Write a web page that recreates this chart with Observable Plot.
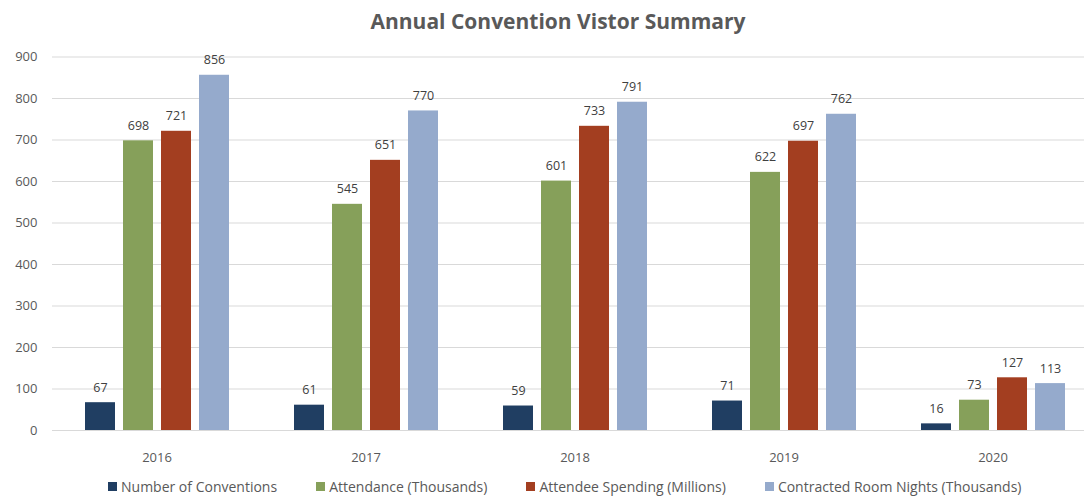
<!DOCTYPE html>
<html>
<head>
<meta charset="utf-8">
<script src="https://cdn.jsdelivr.net/npm/d3@7"></script>
<script src="https://cdn.jsdelivr.net/npm/@observablehq/plot@0.6"></script>
<style>
  html, body { margin: 0; padding: 0; background: #fff; }
  body { width: 1084px; height: 496px; overflow: hidden; font-family: "Open Sans", sans-serif; }
  #title { height: 40px; line-height: 42px; text-align: center; font-weight: bold; font-size: 21px; color: #595959; padding-left: 32px; box-sizing: border-box; }
  #chart { height: 436px; overflow: hidden; width: 1084px; }
  #legend { display: flex; align-items: center; height: 20px; padding-left: 108px; box-sizing: border-box; font-size: 14px; color: #595959; }
  #legend .item { display: flex; align-items: center; margin-right: 39px; }
  #legend .sw { width: 9px; height: 9px; margin-right: 4px; }
</style>
</head>
<body>
<div id="title">Annual Convention Vistor Summary</div>
<div id="chart"></div>
<div id="legend"></div>
<script>
const years = ["2016", "2017", "2018", "2019", "2020"];
const seriesNames = ["Number of Conventions", "Attendance (Thousands)", "Attendee Spending (Millions)", "Contracted Room Nights (Thousands)"];
const conventions = [67, 61, 59, 71, 16];
const attendance = [698, 545, 601, 622, 73];
const spending = [721, 651, 733, 697, 127];
const roomNights = [856, 770, 791, 762, 113];
const colors = ["#203e62", "#86a05a", "#a33e20", "#95aacc"];
const yTicks = [0, 100, 200, 300, 400, 500, 600, 700, 800, 900];

const seriesValues = [conventions, attendance, spending, roomNights];
const data = [];
years.forEach((yr, i) => {
  seriesNames.forEach((s, j) => data.push({year: yr, series: s, value: seriesValues[j][i]}));
});

const chart = Plot.plot({
  width: 1097,
  height: 436,
  marginLeft: 52,
  marginRight: 0,
  marginTop: 16.5,
  marginBottom: 46,
  style: {fontFamily: "Open Sans, sans-serif", fontSize: "13px", color: "#595959", background: "#fff", maxWidth: "none"},
  fx: {domain: years, padding: 0, label: null},
  x: {domain: seriesNames, paddingInner: 0.22, paddingOuter: 0.823, axis: null},
  y: {domain: [0, 900], label: null},
  color: {domain: seriesNames, range: colors},
  marks: [
    Plot.ruleY(yTicks, {stroke: "#d9d9d9", strokeWidth: 1.2}),
    Plot.axisY(yTicks, {tickSize: 0, tickPadding: 15, fontSize: 13, label: null, fill: "#595959"}),
    Plot.axisFx({anchor: "bottom", tickSize: 0, tickPadding: 22, fontSize: 13, label: null, fill: "#595959"}),
    Plot.barY(data, {fx: "year", x: "series", y: "value", fill: "series"}),
    Plot.text(data, {fx: "year", x: "series", y: "value", text: d => String(d.value), dy: -15, fill: "#404040", fontSize: 12.5})
  ]
});
document.getElementById("chart").appendChild(chart);

const legend = document.getElementById("legend");
seriesNames.forEach((s, j) => {
  const item = document.createElement("div");
  item.className = "item";
  const sw = document.createElement("div");
  sw.className = "sw";
  sw.style.background = colors[j];
  const t = document.createElement("span");
  t.textContent = s;
  item.appendChild(sw);
  item.appendChild(t);
  legend.appendChild(item);
});
</script>
</body>
</html>
